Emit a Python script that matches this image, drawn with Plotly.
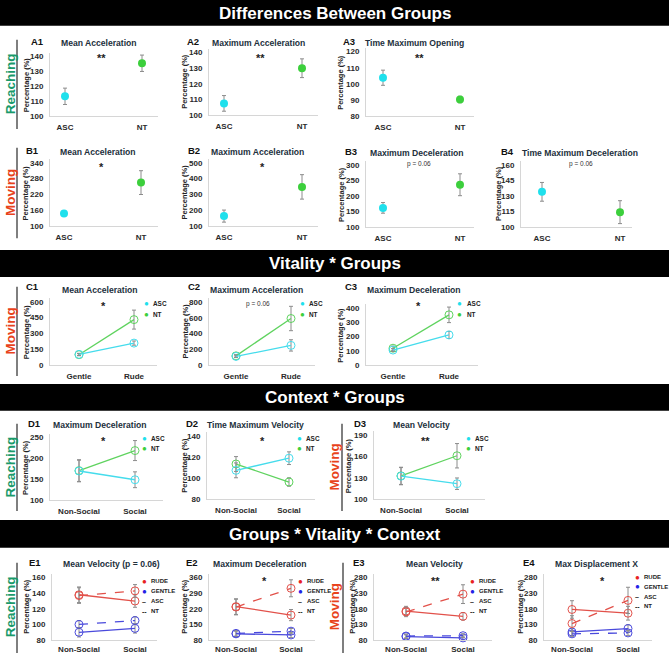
import plotly.graph_objects as go

W, H = 669, 658
FONT = "Liberation Sans, Arial, sans-serif"

# ---------------- DATA ----------------
GROUPS = ["ASC", "NT"]
VITALITY = ["Gentle", "Rude"]
CONTEXT = ["Non-Social", "Social"]

# Differences between groups: mean and error per group [ASC, NT]
A1_mean = [113.3, 135.5]; A1_err = [5.5, 5.5]
A2_mean = [107.5, 130.0]; A2_err = [5.0, 6.0]
A3_mean = [103.8, 90.3];  A3_err = [4.7, 2.0]
B1_mean = [148.0, 265.0]; B1_err = [9.0, 45.0]
B2_mean = [164.0, 348.0]; B2_err = [38.0, 77.0]
B3_mean = [162.0, 236.0]; B3_err = [17.0, 35.0]
B4_mean = [134.0, 114.5]; B4_err = [9.0, 11.0]

# Vitality * Groups  [Gentle, Rude]
C1_ASC = [100, 207]; C1_ASC_err = [10, 20]
C1_NT = [97, 430];   C1_NT_err = [10, 90]
C2_ASC = [108, 248]; C2_ASC_err = [15, 72]
C2_NT = [115, 590];  C2_NT_err = [15, 155]
C3_ASC = [105, 212]; C3_ASC_err = [10, 25]
C3_NT = [118, 354];  C3_NT_err = [15, 55]

# Context * Groups  [Non-Social, Social]
D1_ASC = [170, 149];   D1_ASC_err = [26, 19]
D1_NT = [171, 219];    D1_NT_err = [26, 24]
D2_ASC = [107.5, 119]; D2_ASC_err = [7, 6]
D2_NT = [113.5, 96.5]; D2_NT_err = [7, 4]
D3_ASC = [132.5, 122]; D3_ASC_err = [12, 8]
D3_NT = [133, 161];    D3_NT_err = [12, 17]

# Groups * Vitality * Context  [Non-Social, Social]
E1_RUDE_ASC = [138, 130];   E1_RUDE_ASC_err = [10, 8]
E1_RUDE_NT = [137, 143];    E1_RUDE_NT_err = [10, 8]
E1_GENTLE_ASC = [90, 95];   E1_GENTLE_ASC_err = [6, 6]
E1_GENTLE_NT = [100, 105];  E1_GENTLE_NT_err = [5, 5]
E2_RUDE_ASC = [230, 192];   E2_RUDE_ASC_err = [35, 25]
E2_RUDE_NT = [228, 312];    E2_RUDE_NT_err = [35, 38]
E2_GENTLE_ASC = [108, 103]; E2_GENTLE_ASC_err = [12, 12]
E2_GENTLE_NT = [110, 120];  E2_GENTLE_NT_err = [12, 12]
E3_RUDE_ASC = [173, 156];   E3_RUDE_ASC_err = [15, 12]
E3_RUDE_NT = [170, 227];    E3_RUDE_NT_err = [15, 30]
E3_GENTLE_ASC = [91, 87];   E3_GENTLE_ASC_err = [6, 6]
E3_GENTLE_NT = [93, 94];    E3_GENTLE_NT_err = [6, 6]
E4_RUDE_ASC = [178, 166];   E4_RUDE_ASC_err = [28, 22]
E4_RUDE_NT = [133, 207];    E4_RUDE_NT_err = [25, 42]
E4_GENTLE_ASC = [106, 117]; E4_GENTLE_ASC_err = [12, 12]
E4_GENTLE_NT = [100, 103];  E4_GENTLE_NT_err = [8, 8]

# Y tick values
A1_ticks = [100, 110, 120, 130, 140]
A2_ticks = [100, 110, 120, 130, 140]
A3_ticks = [80, 90, 100, 110, 120]
B1_ticks = [100, 160, 220, 280, 340]
B2_ticks = [100, 200, 300, 400, 500]
B3_ticks = [100, 150, 200, 250, 300]
B4_ticks = [100, 115, 130, 145, 160]
C1_ticks = [0, 150, 300, 450, 600]
C2_ticks = [0, 200, 400, 600, 800]
C3_ticks = [0, 100, 200, 300, 400]
D1_ticks = [100, 150, 200, 250]
D2_ticks = [80, 100, 120, 140]
D3_ticks = [100, 130, 160, 190]
E1_ticks = [80, 100, 120, 140, 160]
E2_ticks = [80, 150, 220, 290, 360]
E3_ticks = [80, 130, 180, 230, 280]
E4_ticks = [80, 130, 180, 230, 280]

# ---------------- STYLES ----------------
DOT = {"ASC": "#1fe0ec", "NT": "#3ccf3c"}
LINE = {"ASC": "#45dcec", "NT": "#5fd35f"}
RED, BLUE = "#e2514a", "#4a4adc"
ERR = "#8c8c8c"
TXT = "#22303c"
REACH_C = "#1a9a6b"
MOVE_C = "#e8431c"

def px(x):
    return x / W

def py(y):
    return 1 - y / H

def group_series(mean, err):
    return [dict(kind="dot", x=[g], y=[mean[i]], err=[err[i]], color=DOT[g]) for i, g in enumerate(GROUPS)]

def two_series(asc, asc_e, nt, nt_e):
    return [dict(kind="line", y=nt, err=nt_e, color=LINE["NT"], dash="solid"),
            dict(kind="line", y=asc, err=asc_e, color=LINE["ASC"], dash="solid")]

def four_series(ra, rae, rn, rne, ga, gae, gn, gne):
    return [dict(kind="line", y=ga, err=gae, color=BLUE, dash="solid"),
            dict(kind="line", y=gn, err=gne, color=BLUE, dash="dash"),
            dict(kind="line", y=ra, err=rae, color=RED, dash="solid"),
            dict(kind="line", y=rn, err=rne, color=RED, dash="dash")]

# geometry: xl, xr, c0, c1, p_lo, p_hi, ytitle_x, label(x,y), title(cx,y), note(text,x,y), legend(kind,x,y0)
panels = [
    dict(lab="A1", title="Mean Acceleration", cats=GROUPS, ticks=A1_ticks, series=group_series(A1_mean, A1_err),
         g=(50, 158, 65, 142, 117, 57, 26), l=(37, 42), t=(98.5, 43), note=("**", 101, 58), leg=None),
    dict(lab="A2", title="Maximum Acceleration", cats=GROUPS, ticks=A2_ticks, series=group_series(A2_mean, A2_err),
         g=(209, 318, 224, 302, 116, 53, 185), l=(193, 42), t=(258, 43), note=("**", 260, 58), leg=None),
    dict(lab="A3", title="Time Maximum Opening", cats=GROUPS, ticks=A3_ticks, series=group_series(A3_mean, A3_err),
         g=(366, 474, 383, 460, 117, 52, 341), l=(349, 42), t=(414, 43), note=("**", 419, 58), leg=None),
    dict(lab="B1", title="Mean Acceleration", cats=GROUPS, ticks=B1_ticks, series=group_series(B1_mean, B1_err),
         g=(50, 158, 64, 141, 228, 164, 26), l=(32, 152), t=(97.5, 153), note=("*", 101, 168), leg=None),
    dict(lab="B2", title="Maximum Acceleration", cats=GROUPS, ticks=B2_ticks, series=group_series(B2_mean, B2_err),
         g=(209, 318, 224, 302, 228, 164, 185), l=(194, 152), t=(257.5, 153), note=("*", 262, 168), leg=None),
    dict(lab="B3", title="Maximum Deceleration", cats=GROUPS, ticks=B3_ticks, series=group_series(B3_mean, B3_err),
         g=(366, 474, 383, 460, 229, 166, 341), l=(351, 153), t=(416.5, 154), note=("p = 0.06", 419, 165), leg=None),
    dict(lab="B4", title="Time Maximum Deceleration", cats=GROUPS, ticks=B4_ticks, series=group_series(B4_mean, B4_err),
         g=(521, 632, 542, 620, 229, 166, 498), l=(507, 153), t=(580, 154), note=("p = 0.06", 581, 165), leg=None),
    dict(lab="C1", title="Mean Acceleration", cats=VITALITY, ticks=C1_ticks,
         series=two_series(C1_ASC, C1_ASC_err, C1_NT, C1_NT_err),
         g=(50, 157, 79, 134, 367.7, 304, 26), l=(32, 289), t=(99.5, 292), note=("*", 104, 308), leg=("g", 146, 306)),
    dict(lab="C2", title="Maximum Acceleration", cats=VITALITY, ticks=C2_ticks,
         series=two_series(C2_ASC, C2_ASC_err, C2_NT, C2_NT_err),
         g=(209, 315, 236, 291, 367.7, 304.3, 185), l=(194, 289), t=(256, 292), note=("p = 0.06", 258, 306), leg=("g", 302, 306)),
    dict(lab="C3", title="Maximum Deceleration", cats=VITALITY, ticks=C3_ticks,
         series=two_series(C3_ASC, C3_ASC_err, C3_NT, C3_NT_err),
         g=(366, 478, 393, 449, 367.7, 310.7, 341), l=(351, 289), t=(414, 292), note=("*", 418, 308), leg=("g", 460, 306)),
    dict(lab="D1", title="Maximum Deceleration", cats=CONTEXT, ticks=D1_ticks,
         series=two_series(D1_ASC, D1_ASC_err, D1_NT, D1_NT_err),
         g=(50, 163, 79, 135, 504, 441, 26), l=(34, 427), t=(100, 428), note=("*", 103, 444), leg=("g", 144, 441.7)),
    dict(lab="D2", title="Time Maximum Velocity", cats=CONTEXT, ticks=D2_ticks,
         series=two_series(D2_ASC, D2_ASC_err, D2_NT, D2_NT_err),
         g=(207, 315, 236, 289, 503.3, 439.3, 185), l=(192, 427), t=(255.5, 428), note=("*", 262, 444), leg=("g", 299, 441.7)),
    dict(lab="D3", title="Mean Velocity", cats=CONTEXT, ticks=D3_ticks,
         series=two_series(D3_ASC, D3_ASC_err, D3_NT, D3_NT_err),
         g=(374, 485, 401, 457, 503.3, 438.3, 348), l=(360, 427), t=(421, 428), note=("**", 426, 444), leg=("g", 468, 441.7)),
    dict(lab="E1", title="Mean Velocity (p = 0.06)", cats=CONTEXT, ticks=E1_ticks,
         series=four_series(E1_RUDE_ASC, E1_RUDE_ASC_err, E1_RUDE_NT, E1_RUDE_NT_err,
                            E1_GENTLE_ASC, E1_GENTLE_ASC_err, E1_GENTLE_NT, E1_GENTLE_NT_err),
         g=(52, 157, 79, 135, 645, 582, 27), l=(35, 567), t=(111, 568), note=None, leg=("v", 144, 585.7)),
    dict(lab="E2", title="Maximum Deceleration", cats=CONTEXT, ticks=E2_ticks,
         series=four_series(E2_RUDE_ASC, E2_RUDE_ASC_err, E2_RUDE_NT, E2_RUDE_NT_err,
                            E2_GENTLE_ASC, E2_GENTLE_ASC_err, E2_GENTLE_NT, E2_GENTLE_NT_err),
         g=(209, 315, 236, 291, 645, 582, 185), l=(192, 567), t=(259.5, 568), note=("*", 264, 585), leg=("v", 300, 585.7)),
    dict(lab="E3", title="Mean Velocity", cats=CONTEXT, ticks=E3_ticks,
         series=four_series(E3_RUDE_ASC, E3_RUDE_ASC_err, E3_RUDE_NT, E3_RUDE_NT_err,
                            E3_GENTLE_ASC, E3_GENTLE_ASC_err, E3_GENTLE_NT, E3_GENTLE_NT_err),
         g=(374, 492, 406, 463, 645, 582, 353), l=(359, 567), t=(434.5, 568), note=("**", 436, 585), leg=("v", 472, 585.7)),
    dict(lab="E4", title="Max Displacement X", cats=CONTEXT, ticks=E4_ticks,
         series=four_series(E4_RUDE_ASC, E4_RUDE_ASC_err, E4_RUDE_NT, E4_RUDE_NT_err,
                            E4_GENTLE_ASC, E4_GENTLE_ASC_err, E4_GENTLE_NT, E4_GENTLE_NT_err),
         g=(544, 652, 572, 628, 645, 582, 521), l=(529, 567), t=(596, 568), note=("*", 602, 585), leg=("v", 637, 581.7)),
]

fig = go.Figure()
layout = {}
ann = []
shapes = []

def A(text, x, y, size, color=TXT, bold=True, angle=0, xanchor="center"):
    ann.append(dict(text=("<b>%s</b>" % text) if bold else text, x=px(x), y=py(y), xref="paper", yref="paper",
                    showarrow=False, xanchor=xanchor, yanchor="middle", textangle=angle,
                    font=dict(family=FONT, size=size, color=color)))

for k, p in enumerate(panels, start=1):
    xa = "x" if k == 1 else "x%d" % k
    ya = "y" if k == 1 else "y%d" % k
    xl, xr, c0, c1, plo, phi, ytx = p["g"]
    ticks = p["ticks"]
    vlo, vhi = ticks[0], ticks[-1]
    s = (vhi - vlo) / (plo - phi)
    top = phi - 4
    for ser in p["series"]:
        if ser["kind"] == "dot":
            fig.add_trace(go.Scatter(
                x=ser["x"], y=ser["y"], xaxis=xa, yaxis=ya, mode="markers", cliponaxis=False,
                marker=dict(size=8, color=ser["color"]),
                error_y=dict(type="data", array=ser["err"], color=ERR, thickness=1, width=2)))
        else:
            fig.add_trace(go.Scatter(
                x=p["cats"], y=ser["y"], xaxis=xa, yaxis=ya, mode="lines+markers", cliponaxis=False,
                line=dict(color=ser["color"], width=1.3, dash=ser["dash"]),
                marker=dict(symbol="circle-open", size=8, color=ser["color"], line=dict(width=1)),
                error_y=dict(type="data", array=ser["err"], color=ERR, thickness=1, width=2)))
    span = c1 - c0
    xticklen = 1 if k >= 14 else 3
    layout["xaxis" if k == 1 else "xaxis%d" % k] = dict(
        domain=[px(xl), px(xr)], anchor=ya, type="category", categoryorder="array", categoryarray=p["cats"],
        range=[-(c0 - xl) / span, 1 + (xr - c1) / span], showline=True, linecolor="#d6d6d6", linewidth=1,
        showgrid=False, zeroline=False, ticks="outside", ticklen=xticklen, tickcolor="rgba(0,0,0,0)",
        tickfont=dict(family=FONT, size=8, color="#2a2a2a", weight="bold"), fixedrange=True)
    layout["yaxis" if k == 1 else "yaxis%d" % k] = dict(
        domain=[py(plo), py(top)], anchor=xa, range=[vlo, vhi + (phi - top) * s],
        tickvals=ticks, showline=True, linecolor="#d6d6d6", linewidth=1, showgrid=False, zeroline=False,
        ticks="outside", ticklen=4, tickcolor="rgba(0,0,0,0)",
        tickfont=dict(family=FONT, size=8, color="#2a2a2a", weight="bold"), fixedrange=True)
    # panel label, title, y-axis title
    A(p["lab"], p["l"][0], p["l"][1], 9.5, color="#111")
    A(p["title"], p["t"][0], p["t"][1], 8.6)
    A("Percentage (%)", ytx, (plo + top) / 2, 7.5, color="#222", angle=-90)
    if p["note"]:
        txt, nx, ny = p["note"]
        if txt.startswith("p"):
            A(txt, nx, ny, 6.5, color="#333", bold=False)
        else:
            A(txt, nx, ny, 11, color="#222")
    if p["leg"]:
        kind, lx, ly = p["leg"]
        if kind == "g":
            items = [("●", DOT["ASC"], "ASC"), ("●", DOT["NT"], "NT")]
            step = 11 if k <= 10 else 10
            fs = 6.4
        else:
            items = [("●", "#e8231e", "RUDE"), ("●", "#2323e6", "GENTLE"), ("–", "#222", "ASC"), ("--", "#222", "NT")]
            step = 10 if k != 17 else 9.7
            fs = 6
        for i, (sym, col, name) in enumerate(items):
            yy = ly + i * step
            A(sym, lx, yy, 8 if sym == "●" else 7, color=col)
            A(name, lx + 4.5, yy, fs, color="#222", xanchor="left")

# banners
banners = [("Differences Between Groups", 0, 26), ("Vitality * Groups", 252, 279),
           ("Context * Groups", 387, 414), ("Groups * Vitality * Context", 524, 552)]
for text, y0, y1 in banners:
    shapes.append(dict(type="rect", xref="paper", yref="paper", x0=0, x1=1, y0=py(y1), y1=py(y0),
                       fillcolor="#000", line=dict(width=0), layer="below"))
    A(text, W / 2, (y0 + y1) / 2 + 0.5, 17, color="#fff")

# row labels with vertical rules
rows = [("Reaching", REACH_C, 17, 40, 130, 10), ("Moving", MOVE_C, 17, 149, 240, 10),
        ("Moving", MOVE_C, 17, 289, 379, 10), ("Reaching", REACH_C, 17, 427, 515, 10),
        ("Moving", MOVE_C, 342, 427, 515, 334), ("Reaching", REACH_C, 17, 567, 658, 10),
        ("Moving", MOVE_C, 343, 567, 658, 334)]
for text, col, lx, y0, y1, tx in rows:
    shapes.append(dict(type="line", xref="paper", yref="paper", x0=px(lx), x1=px(lx), y0=py(y0), y1=py(y1),
                       line=dict(color="#555", width=1.5)))
    cy = (y0 + y1) / 2 if y1 < 650 else 612
    A(text, tx, cy, 13.5, color=col, angle=-90)

fig.update_layout(width=W, height=H, margin=dict(l=0, r=0, t=0, b=0), showlegend=False,
                  plot_bgcolor="#fff", paper_bgcolor="#fff", annotations=ann, shapes=shapes, **layout)
fig.write_html("out.html", config={"displayModeBar": False, "staticPlot": True},
               post_script="document.body.style.margin='0';document.body.style.overflow='hidden';")
